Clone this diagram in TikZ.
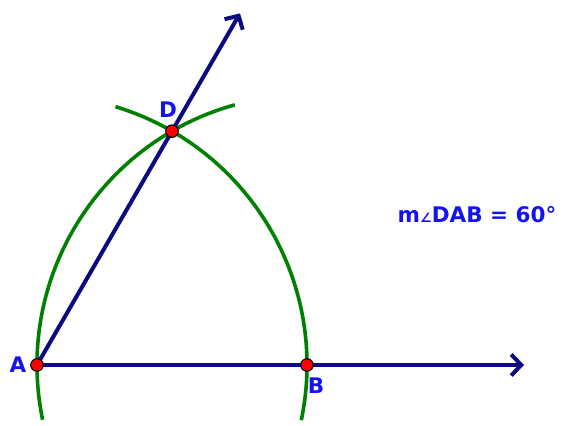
\documentclass[tikz,border=0pt]{standalone}
\usepackage{fontspec}
\setmainfont{DejaVu Sans}
\newfontfamily\symfont{DejaVu Sans}
\usetikzlibrary{arrows.meta}
\definecolor{rayblue}{RGB}{10,10,130}
\definecolor{arcgreen}{RGB}{0,128,0}
\definecolor{lblblue}{RGB}{20,20,240}
\tikzset{
    ray/.style={draw=rayblue, line width=4pt, -{Straight Barb[length=10pt, width=21pt, line width=4pt]}},
    arcline/.style={draw=arcgreen, line width=3.6pt},
    pt/.style={circle, draw=black, fill=red, line width=1.1pt, inner sep=0pt, minimum size=12.5pt},
    lbl/.style={text=lblblue, font=\fontsize{21.5}{24}\selectfont\bfseries, inner sep=0pt}
}
\begin{document}
\begin{tikzpicture}[x=1pt, y=1pt]
    \useasboundingbox (-37,-61) rectangle (526,365);
    % 端点
    \coordinate (A) at (0,0);
    \coordinate (B) at (270,0);
    \coordinate (D) at (60:270);
    \coordinate (tipAB) at (487,0);
    \coordinate (tipAD) at (60:406);
    % 圆弧
    \draw[arcline] ([shift={(-11.8:270)}]A) arc[start angle=-11.8, end angle=73.1, radius=270];
    \draw[arcline] ([shift={(191.7:270)}]B) arc[start angle=191.7, end angle=105.5, radius=270];
    % 射线
    \draw[ray] (A) -- (tipAB);
    \draw[ray] (A) -- (tipAD);
    % 点
    \foreach \p in {A,B,D} {
        \node[pt] (\p pt) at (\p) {};
    }
    % 标注
    \node[lbl] (labA) at (-19,0) {A};
    \node[lbl] (labB) at (279,-21) {B};
    \node[lbl] (labD) at (131,255) {D};
    \node[lbl] (angle) at (440,150) {m{\symfont\fontsize{13}{14}\selectfont\bfseries ∠}DAB = 60°};
\end{tikzpicture}
\end{document}
